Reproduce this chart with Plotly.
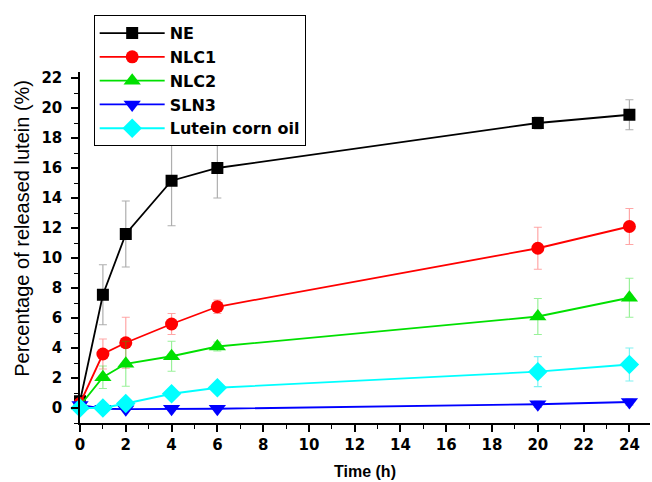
import plotly.graph_objects as go

time_h = [0, 1, 2, 4, 6, 20, 24]

ne = [0.45, 7.55, 11.6, 15.15, 16.0, 19.0, 19.55]
ne_err = [0.0, 2.0, 2.2, 3.0, 2.0, 0.4, 1.0]

nlc1 = [0.3, 3.6, 4.35, 5.6, 6.75, 10.65, 12.1]
nlc1_err = [0.0, 1.0, 1.7, 0.7, 0.45, 1.4, 1.2]

nlc2 = [0.15, 2.05, 2.95, 3.45, 4.1, 6.1, 7.35]
nlc2_err = [0.0, 0.75, 1.5, 1.0, 0.3, 1.2, 1.3]

sln3 = [0.2, -0.05, -0.08, -0.05, -0.05, 0.25, 0.4]
sln3_err = [0.0, 0.05, 0.05, 0.05, 0.05, 0.2, 0.2]

corn = [0.0, 0.0, 0.3, 0.95, 1.35, 2.42, 2.9]
corn_err = [0.0, 0.1, 0.1, 0.1, 0.1, 1.0, 1.1]

y_title = "Percentage of released lutein (%)"
x_title = "Time (h)"

series = [
    ("NE", ne, ne_err, "#000000", "rgba(120,120,120,0.6)", "square", 12),
    ("NLC1", nlc1, nlc1_err, "#ff0000", "rgba(255,0,0,0.35)", "circle", 13),
    ("NLC2", nlc2, nlc2_err, "#00e000", "rgba(0,220,0,0.4)", "triangle-up", 15),
    ("SLN3", sln3, sln3_err, "#0000ff", "rgba(0,0,255,0.5)", "triangle-down", 15),
    ("Lutein corn oil", corn, corn_err, "#00ffff", "rgba(0,230,230,0.5)", "diamond", 15),
]

fig = go.Figure()
for name, y, err, col, ecol, sym, sz in series:
    fig.add_trace(go.Scatter(
        x=time_h, y=y, name=name, mode="lines+markers",
        line=dict(color=col, width=1.8),
        marker=dict(symbol=sym, size=sz, color=col),
        error_y=dict(type="data", array=err, visible=True, color=ecol, thickness=1.2, width=4),
        cliponaxis=False,
    ))

wide_bold = dict(family="DejaVu Sans, sans-serif", size=15, color="black", weight="bold")
legend_font = dict(family="DejaVu Sans, sans-serif", size=16, color="black", weight="bold")
arial_bold = dict(family="Arial, Liberation Sans, sans-serif", size=16, color="black", weight="bold")

fig.add_annotation(
    text=y_title, textangle=-90, showarrow=False,
    xref="paper", yref="paper", x=-0.1018, y=0.556, xanchor="center", yanchor="middle",
    font=dict(family="Arial, Liberation Sans, sans-serif", size=20, color="black"),
)

fig.update_layout(
    width=652, height=482,
    margin=dict(l=80, r=2, t=72, b=59),
    paper_bgcolor="white", plot_bgcolor="white",
    showlegend=True,
    legend=dict(
        x=0.024, y=1.162, xanchor="left", yanchor="top",
        bordercolor="black", borderwidth=1, bgcolor="white",
        font=legend_font, tracegroupgap=0, itemwidth=65,
    ),
    xaxis=dict(
        range=[0, 24.9], tickmode="linear", tick0=0, dtick=2,
        showline=True, linecolor="black", linewidth=1.5, mirror=False,
        ticks="outside", ticklen=7, tickwidth=1.5, tickcolor="black",
        minor=dict(dtick=1, ticks="outside", ticklen=4, tickcolor="black", tickwidth=1),
        showgrid=False, zeroline=False, tickfont=wide_bold,
        title=dict(text=x_title, font=arial_bold, standoff=13),
    ),
    yaxis=dict(
        range=[-1, 22.4], tickmode="linear", tick0=0, dtick=2,
        showline=True, linecolor="black", linewidth=1.5, mirror=False,
        ticks="outside", ticklen=7, tickwidth=1.5, tickcolor="black",
        minor=dict(dtick=1, ticks="outside", ticklen=4, tickcolor="black", tickwidth=1),
        showgrid=False, zeroline=False, tickfont=wide_bold, ticklabelstandoff=6,
    ),
)

fig.write_html("out.html")
